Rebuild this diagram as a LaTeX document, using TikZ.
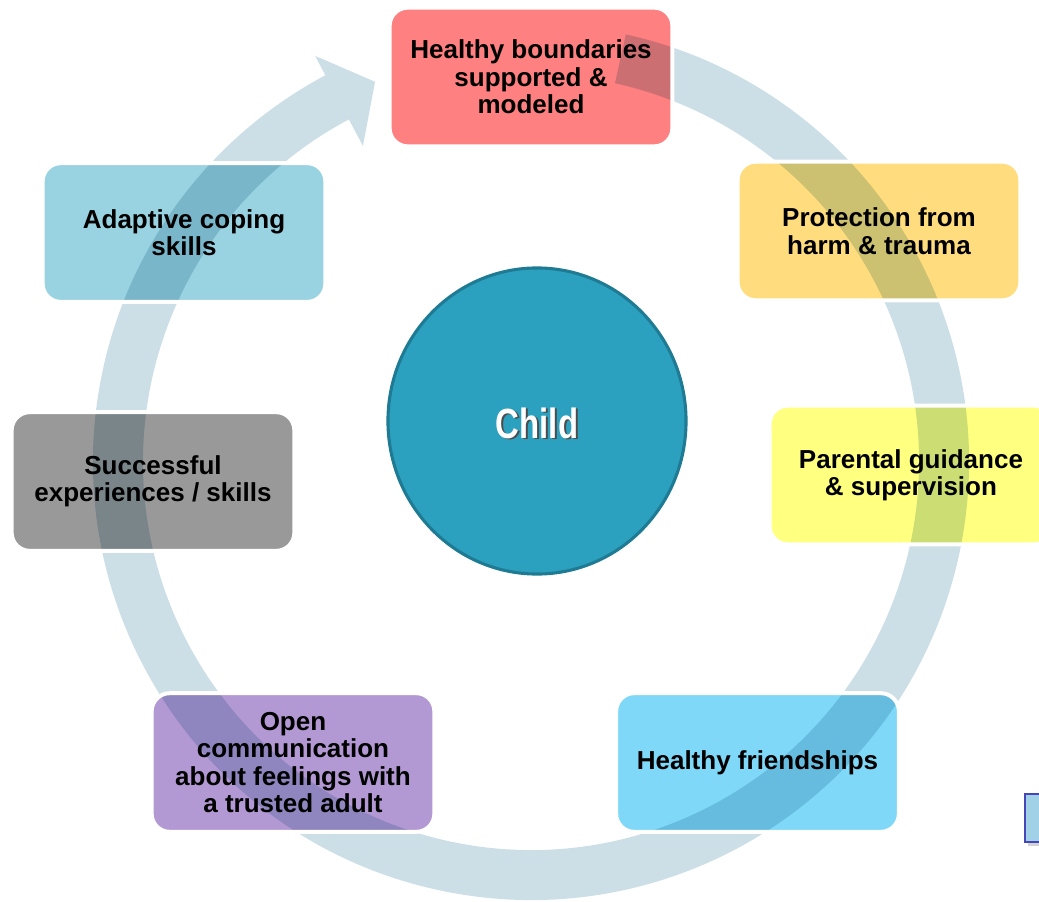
\documentclass[tikz,border=0pt]{standalone}
\usepackage{fontspec}
\setmainfont{Liberation Sans}
\newfontfamily\childfont[FakeStretch=0.78]{Liberation Sans}
\usetikzlibrary{shapes.geometric,shadows}
\definecolor{ringblue}{HTML}{CCDEE6}
\definecolor{boundred}{HTML}{FF8080}
\definecolor{protectgold}{HTML}{FFDD7E}
\definecolor{guideyellow}{HTML}{FFFF80}
\definecolor{friendblue}{HTML}{80D8F8}
\definecolor{talkpurple}{HTML}{B399D4}
\definecolor{skillgrey}{HTML}{999999}
\definecolor{copeblue}{HTML}{99D2E0}
\definecolor{childteal}{HTML}{2CA1BF}
\definecolor{childrim}{HTML}{1F7B93}
\tikzset{
  ringarrow/.style={fill=ringblue,draw=none},
  carebox/.style={rounded corners=0.45cm,minimum width=7.05cm,minimum height=3.45cm,
    inner sep=0pt,align=center,font=\bfseries\fontsize{18.5}{19.5}\selectfont},
  boxedge/.style={draw=white,line width=2.8pt,rounded corners=0.45cm},
  childnode/.style={ellipse,fill=childteal,draw=childrim,line width=2.2pt,
    minimum width=7.45cm,minimum height=7.65cm,inner sep=0pt},
  childtext/.style={font=\childfont\bfseries\fontsize{30}{30}\selectfont},
  tabbox/.style={fill=cyan!25!ringblue,draw=blue!45!gray,line width=1.5pt,anchor=north west,
    minimum width=1.2cm,minimum height=1.2cm,
    drop shadow={shadow xshift=2pt,shadow yshift=-2.5pt,opacity=0.35}}
}

\begin{document}
\begin{tikzpicture}[x=0.025cm,y=0.025cm]
  \useasboundingbox (0,0) rectangle (1039,-901);
  % circular arrow behind the boxes
  \begin{scope}[shift={(531,-462)}]
    \fill[ringarrow] (77.5:438) arc[start angle=77.5,end angle=-242,radius=438]
      -- (-242:460) -- (-247.7:411) -- (-242:358) -- (-242:388)
      arc[start angle=-242,end angle=77.5,radius=388] -- cycle;
  \end{scope}
  % the seven boxes, tinted over the arrow
  \begin{scope}[blend mode=multiply]
    \node[carebox,fill=boundred] (bound) at (531,-77) {Healthy boundaries\\supported \&\\modeled};
    \node[carebox,fill=protectgold] (protect) at (879,-231) {Protection from\\harm \& trauma};
    \node[carebox,fill=guideyellow] (guide) at (911,-475) {Parental guidance\\\& supervision};
    \node[carebox,fill=friendblue] (friend) at (757.5,-762.5) {Healthy friendships};
    \node[carebox,fill=talkpurple] (talk) at (293,-762.5) {Open\\communication\\about feelings with\\a trusted adult};
    \node[carebox,fill=skillgrey] (skill) at (153,-481.5) {Successful\\experiences / skills};
    \node[carebox,fill=copeblue] (cope) at (184,-232.5) {Adaptive coping\\skills};
  \end{scope}
  \foreach \n in {bound,protect,guide,friend,talk,skill,cope}
    \draw[boxedge] (\n.south west) rectangle (\n.north east);
  % centre
  \node[childnode] (child) at (537,-421) {};
  \node[childtext,text=black!70] (childshade) at (539,-424.5) {Child};
  \node[childtext,text=white] (childlabel) at (537,-423) {Child};
  \node[tabbox] (tab) at (1024,-793) {};
\end{tikzpicture}
\end{document}
